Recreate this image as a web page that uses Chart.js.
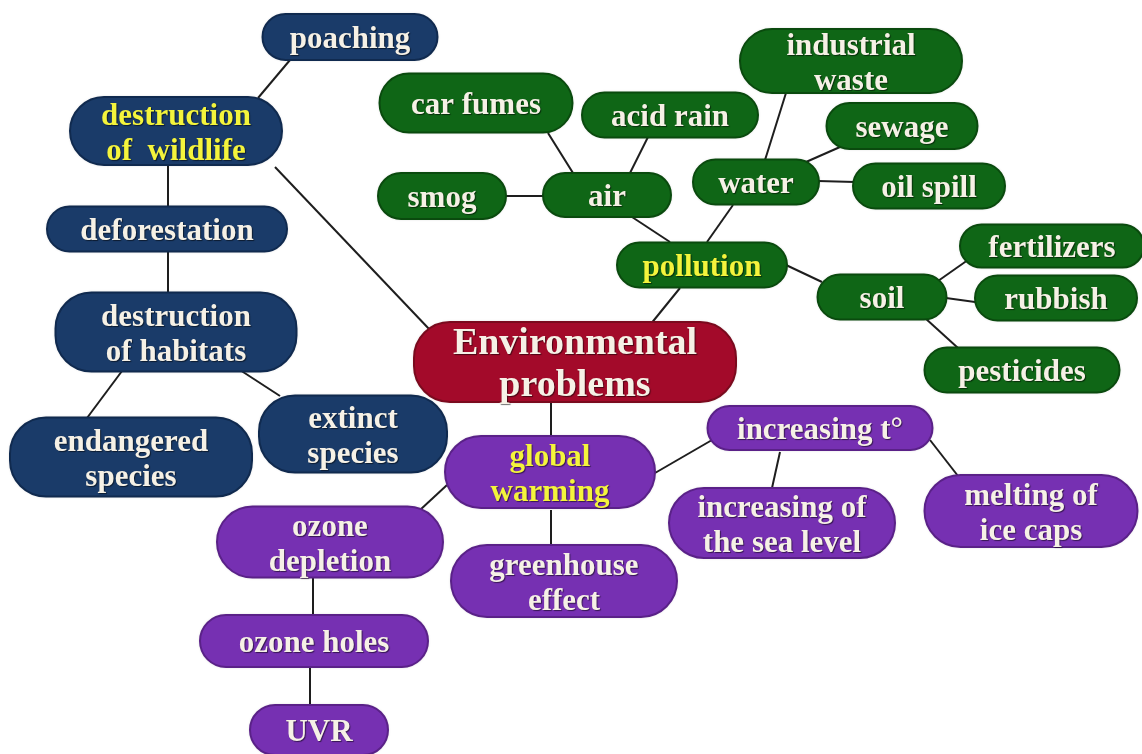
<!DOCTYPE html>
<html>
<head>
<meta charset="utf-8">
<script src="https://cdn.jsdelivr.net/npm/chart.js@4/dist/chart.umd.min.js"></script>
<style>
  html,body{margin:0;padding:0;background:#fff;}
  #wrap{width:1142px;height:754px;}
</style>
</head>
<body>
<div id="wrap"><canvas id="map" width="1142" height="754"></canvas></div>
<script>
/* DATA */
const nodeLabels = [
  "poaching", "destruction\nof  wildlife", "deforestation", "destruction\nof habitats",
  "endangered\nspecies", "extinct\nspecies",
  "car fumes", "acid rain", "smog", "air", "industrial\nwaste", "water", "sewage",
  "oil spill", "pollution", "soil", "fertilizers", "rubbish", "pesticides",
  "Environmental\nproblems",
  "global\nwarming", "increasing t°", "increasing of\nthe sea level", "melting of\nice caps",
  "greenhouse\neffect", "ozone\ndepletion", "ozone holes", "UVR"
];
const nodeX = [350, 176, 167, 176, 131, 353, 476, 670, 442, 607, 851, 756, 902, 929, 702, 882, 1052, 1056, 1022, 575, 550, 820, 782, 1031, 564, 330, 314, 319];
const nodeY = [37, 131, 229, 332, 457, 434, 103, 115, 196, 195, 61, 182, 126, 186, 265, 297, 246, 298, 370, 362, 472, 428, 523, 511, 581, 542, 641, 730];
const nodeGroup = [
  "wildlife", "wildlife", "wildlife", "wildlife", "wildlife", "wildlife",
  "pollution", "pollution", "pollution", "pollution", "pollution", "pollution", "pollution",
  "pollution", "pollution", "pollution", "pollution", "pollution", "pollution",
  "root",
  "warming", "warming", "warming", "warming", "warming", "warming", "warming", "warming"
];
const headNodes = ["destruction\nof  wildlife", "pollution", "global\nwarming"];

// connector end points
const linkX1 = [290, 168, 168, 122, 240, 275, 548, 648, 505, 632, 786, 806, 818, 733, 786, 680, 938, 946, 925, 551, 655, 780, 930, 551, 447, 313, 310];
const linkY1 = [60, 165, 252, 371, 370, 167, 133, 137, 196, 217, 93, 162, 181, 205, 265, 288, 281, 298, 318, 402, 473, 452, 440, 510, 485, 578, 668];
const linkX2 = [258, 168, 168, 87, 280, 430, 573, 630, 545, 670, 765, 840, 855, 707, 822, 650, 975, 975, 958, 551, 712, 772, 958, 551, 420, 313, 310];
const linkY2 = [98, 206, 293, 418, 396, 330, 173, 173, 196, 242, 160, 147, 182, 242, 282, 325, 255, 302, 348, 437, 440, 488, 476, 545, 510, 616, 706];

/* LAYOUT (box sizes, px) */
const boxW = [175, 212, 240, 241, 242, 188, 193, 176, 128, 128, 222, 126, 151, 152, 170, 129, 184, 162, 195, 322, 210, 225, 226, 213, 226, 226, 228, 138];
const boxH = [46, 68, 45, 79, 79, 77, 59, 45, 46, 44, 64, 45, 46, 45, 45, 45, 43, 45, 45, 80, 72, 44, 70, 72, 72, 71, 52, 50];

const fills = {wildlife:"#1a3b69", pollution:"#0f6616", warming:"#7630b2", root:"#a30a2a"};
const rims = {wildlife:"#102a4f", pollution:"#0a4a0e", warming:"#5a2188", root:"#7a0a1e"};

/* CHART */
const linkSets = linkX1.map((x,i)=>({
  type:"line",
  data:[{x:x, y:linkY1[i]}, {x:linkX2[i], y:linkY2[i]}],
  borderColor:"#1e1e1e",
  borderWidth:2,
  pointRadius:0,
  showLine:true
}));

const nodeSet = {
  type:"scatter",
  data:nodeX.map((x,i)=>({x:x, y:nodeY[i]})),
  pointRadius:0
};

function pill(ctx, x, y, w, h, r){
  ctx.beginPath();
  ctx.moveTo(x+r, y);
  ctx.lineTo(x+w-r, y);
  ctx.arc(x+w-r, y+r, r, -Math.PI/2, 0);
  ctx.lineTo(x+w, y+h-r);
  ctx.arc(x+w-r, y+h-r, r, 0, Math.PI/2);
  ctx.lineTo(x+r, y+h);
  ctx.arc(x+r, y+h-r, r, Math.PI/2, Math.PI);
  ctx.lineTo(x, y+r);
  ctx.arc(x+r, y+r, r, Math.PI, Math.PI*1.5);
  ctx.closePath();
}

const boxes = {
  id:"boxes",
  afterDatasetsDraw(chart){
    const ctx = chart.ctx;
    const meta = chart.getDatasetMeta(chart.data.datasets.length-1);
    meta.data.forEach((pt,i)=>{
      const w = boxW[i], h = boxH[i];
      const x = pt.x - w/2, y = pt.y - h/2;
      const g = nodeGroup[i];
      ctx.save();
      ctx.shadowColor = "rgba(0,0,0,0.25)";
      ctx.shadowBlur = 3;
      pill(ctx, x, y, w, h, Math.min(h/2, 36));
      ctx.fillStyle = fills[g];
      ctx.fill();
      ctx.shadowColor = "transparent";
      ctx.lineWidth = 2;
      ctx.strokeStyle = rims[g];
      ctx.stroke();

      const size = g=="root" ? 38 : 31;
      const lines = nodeLabels[i].split("\n");
      const lh = g=="root" ? 42 : 35;
      ctx.font = "bold "+size+"px 'Liberation Serif', 'Times New Roman', serif";
      ctx.textAlign = "center";
      ctx.textBaseline = "middle";
      ctx.shadowColor = "rgba(0,0,0,0.55)";
      ctx.shadowOffsetX = 1;
      ctx.shadowOffsetY = 1;
      ctx.shadowBlur = 1;
      ctx.fillStyle = headNodes.includes(nodeLabels[i]) ? "#f4f43c" : "#f6f1e6";
      lines.forEach((s,k)=>{
        ctx.fillText(s, pt.x, pt.y + (k-(lines.length-1)/2)*lh + 3);
      });
      ctx.restore();
    });
  }
};

new Chart(document.getElementById("map"), {
  data:{datasets:[...linkSets, nodeSet]},
  options:{
    responsive:false,
    animation:false,
    layout:{padding:0},
    plugins:{legend:{display:false}, tooltip:{enabled:false}},
    scales:{
      x:{type:"linear", min:0, max:1142, display:false},
      y:{type:"linear", min:0, max:754, reverse:true, display:false}
    }
  },
  plugins:[boxes]
});
</script>
</body>
</html>
